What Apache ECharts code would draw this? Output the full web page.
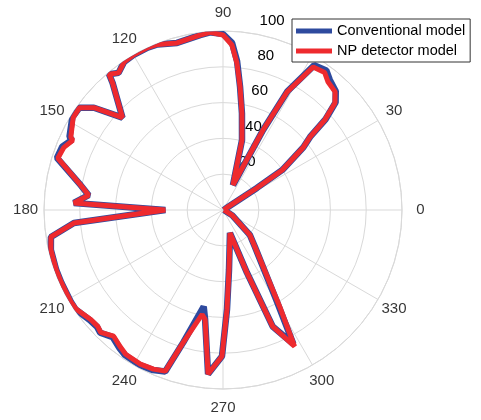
<!DOCTYPE html>
<html>
<head>
<meta charset="utf-8">
<script src="https://cdn.jsdelivr.net/npm/echarts@6/dist/echarts.min.js"></script>
<style>
html,body{margin:0;padding:0;background:#fff;}
#chart{width:481px;height:420px;}
</style>
</head>
<body>
<div id="chart"></div>
<script>
// Angles in degrees (theta) and radius values
const angles = [0,15,30,33,34,38,40,41.5,43.7,46.5,50.6,53.5,57.8,61.5,63.4,68.2,74.8,78.9,82.1,84.6,86.9,90,94.2,97.5,105.4,111.6,114.9,120.1,123.7,127.3,130,131,137.4,141.6,144.6,148.4,154.5,155.1,158.5,162.6,170.1,173.7,177.3,180,185,188.9,193,199.7,204.1,211.3,214,219.6,222.9,225,229.1,233.3,236,241.8,246.4,250.3,253.3,258.7,260.7,264.8,269.6,272.3,275.7,286.9,290.9,293.1,297.7,300.4,310.9,317.2,330,345,360];
const npValues = [0.5,0.5,2,22.6,40,57,63.5,76,86.5,91,92.5,95.5,94.4,75,50,15,40.5,55,69.4,82.5,92.3,97.8,99.5,98.5,96.8,99.5,100,100,99.5,96.3,99,94,76.3,92,98.5,98.3,94.2,92.5,95.5,96.7,80.7,75.5,83.4,32.2,83.6,97.3,98.7,99,99,99.3,99,95.9,95.5,96.6,93.3,95.7,97.2,97.7,97,95.6,77.2,59.5,61.9,92,81.7,55.6,33.7,13.4,37.5,70.7,86,62.5,27.2,20.4,6,1,0.5];
const convValues = [0.5,0.5,2,22.6,40,57,63.5,76.5,87,91.5,94,97,95.5,75.5,50,15,40.5,55,69.4,83.5,93.5,98.3,99.5,98.5,96.8,99.5,100,100,99.5,96.3,99,94,76.3,92,98.5,98.8,95,93,96.5,97.2,80.7,75.5,83.4,32.2,83.6,97.3,98.7,99,99,99.3,99.3,96.5,96,97,94,96.5,97.8,98.3,97.6,95.8,77.2,55,61.9,92,81.7,55.6,33.7,13.4,37.5,70.7,84.5,60,27.2,20.4,6,1,0.5];
const radiusTicks = [0,20,40,60,80,100];
const angleTicks = [0,30,60,90,120,150,180,210,240,270,300,330];
const seriesNames = ['Conventional model','NP detector model'];

const toPairs = (vals) => vals.map((v,i) => [v, angles[i]]);
const LABEL_R = 110.3; // radial position (in r units) where angle tick labels are centred

const FONT = 'Liberation Sans, Arial, Helvetica, sans-serif';
const chart = echarts.init(document.getElementById('chart'), null, {renderer:'canvas'});
chart.setOption({
  backgroundColor:'#ffffff',
  animation:false,
  polar:[
    {center:[223,210], radius:179},
    {center:[241,197], radius:179}
  ],
  angleAxis:[
    {polarIndex:0, type:'value', min:0, max:360, interval:30, startAngle:0, clockwise:false,
     axisLine:{show:true, lineStyle:{color:'#d9d9d9', width:1}},
     axisTick:{show:false},
     splitLine:{show:true, lineStyle:{color:'#d9d9d9', width:1}},
     axisLabel:{show:false}},
    {polarIndex:1, type:'value', min:0, max:360, startAngle:80, clockwise:false, show:false}
  ],
  radiusAxis:[
    {polarIndex:0, type:'value', min:0, max:100, interval:20,
     axisLine:{show:false}, axisTick:{show:false}, axisLabel:{show:false},
     splitLine:{show:true, lineStyle:{color:'#d9d9d9', width:1}}},
    {polarIndex:1, type:'value', min:0, max:100, interval:20,
     axisLine:{show:false}, axisTick:{show:false}, splitLine:{show:false},
     axisLabel:{show:true, margin:0, align:'center', verticalAlign:'middle', color:'#000', fontSize:15, fontFamily:FONT,
       formatter:(v)=> (radiusTicks.indexOf(v) > 0 ? String(v) : '')}}
  ],
  legend:{
    orient:'vertical', left:292, top:19,
    padding:[4,5,3,4], itemGap:4, itemWidth:36, itemHeight:5, icon:'rect',
    backgroundColor:'#fff', borderColor:'#333', borderWidth:1, borderRadius:0,
    textStyle:{color:'#000', fontSize:14.5, fontFamily:FONT, lineHeight:16},
    data:seriesNames
  },
  series:[
    {name:'angleLabels', type:'scatter', coordinateSystem:'polar', polarIndex:0,
     data:angleTicks.map(a => [LABEL_R, a]), symbolSize:1, clip:false, silent:true,
     itemStyle:{color:'rgba(0,0,0,0)'},
     label:{show:true, position:[0.5,0.5], align:'center', verticalAlign:'middle',
       color:'#000', textBorderWidth:0,
       fontSize:15, fontFamily:FONT, formatter:(p)=> String(p.value[1])}, z:1},
    {name:seriesNames[0], type:'line', coordinateSystem:'polar', polarIndex:0,
     data:toPairs(convValues), symbol:'none', showSymbol:false, smooth:false,
     color:'#2E4A9E', lineStyle:{color:'#2E4A9E', width:6.5}, z:3},
    {name:seriesNames[1], type:'line', coordinateSystem:'polar', polarIndex:0,
     data:toPairs(npValues), symbol:'none', showSymbol:false, smooth:false,
     color:'#EE2A2E', lineStyle:{color:'#EE2A2E', width:5}, z:4}
  ]
});
</script>
</body>
</html>
